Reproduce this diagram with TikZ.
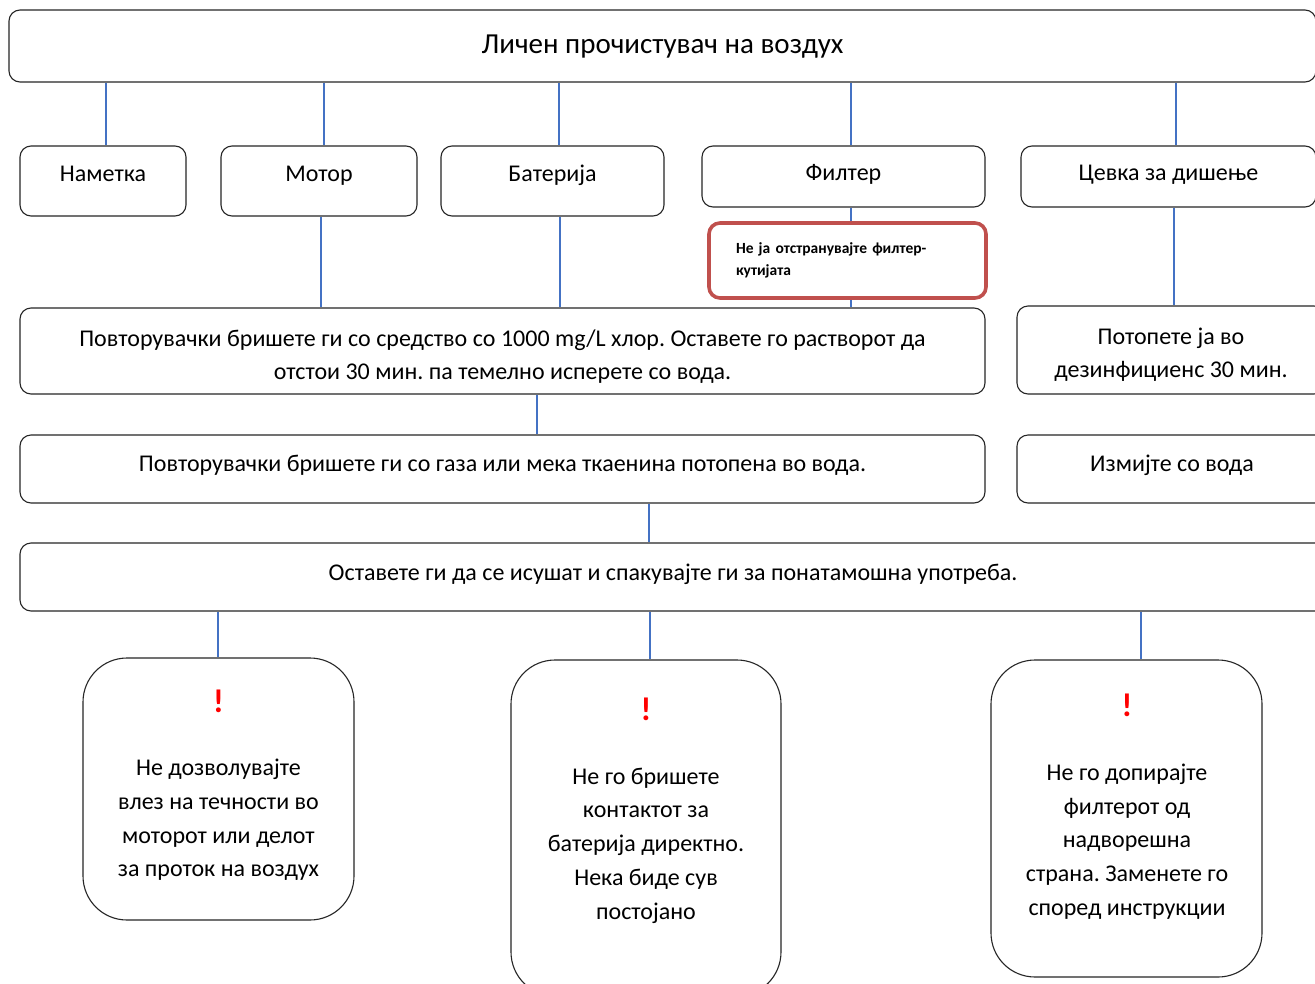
\documentclass[tikz,border=0pt]{standalone}
\usepackage{fontspec}
\setmainfont{Carlito}
\frenchspacing
\definecolor{connblue}{HTML}{4472C4}
\definecolor{warnred}{HTML}{C0504D}
\definecolor{boxline}{HTML}{262626}
\begin{document}
\begin{tikzpicture}[x=1pt,y=-1pt,
  box/.style={draw=boxline, line width=1.1pt, rounded corners=11pt, inner sep=0pt,
    align=center, font=\fontsize{24}{33}\selectfont},
  bigbox/.style={draw=boxline, line width=1.1pt, rounded corners=44pt, inner sep=0pt},
  redbox/.style={draw=warnred, line width=3.6pt, rounded corners=11pt, inner sep=0pt,
    align=left, font=\fontsize{15.5}{22}\selectfont\bfseries},
  bodytext/.style={inner sep=0pt, align=center, font=\fontsize{24}{33.7}\selectfont},
  bang/.style={inner sep=0pt, text=red, font=\fontsize{33}{36}\selectfont\bfseries},
  conn/.style={draw=connblue, line width=2pt}]
\useasboundingbox (0,0) rectangle (1315,983);
\clip (0,0) rectangle (1315,983);
\fill[white] (0,0) rectangle (1315,983);

% top
\node[box, minimum width=1307, minimum height=72, font=\fontsize{29}{34}\selectfont, text height=18pt, text depth=4pt] (title) at (662.5,46) {Личен прочистувач на воздух};

% parts
\node[box, minimum width=166, minimum height=70, text height=9pt, text depth=9pt] (nametka) at (103,181) {Наметка};
\node[box, minimum width=196, minimum height=70, text height=9pt, text depth=9pt] (motor) at (319,181) {Мотор};
\node[box, minimum width=223, minimum height=70, text height=9pt, text depth=9pt] (bater) at (552.5,181) {Батерија};
\node[box, minimum width=283, minimum height=61, text height=12pt, text depth=4pt] (filter) at (843.5,176.5) {Филтер};
\node[box, minimum width=295, minimum height=61, text height=12pt, text depth=4pt] (cevka) at (1168.5,176.5) {Цевка за дишење};

% red note
\node[redbox, minimum width=277, minimum height=75, text width=223] (note) at (847.5,260.5) {Не ја отстранувајте филтер-\\кутијата};

% steps
\node[box, minimum width=965, minimum height=86] (s1) at (502.5,351) {\rule{0pt}{27pt}Повторувачки бришете ги со средство со 1000 mg/L хлор. Оставете го растворот да\\отстои 30 мин. па темелно исперете со вода.};
\node[box, minimum width=308, minimum height=88] (pot) at (1171,350) {\rule{0pt}{25pt}Потопете ја во\\дезинфициенс 30 мин.};
\node[box, minimum width=965, minimum height=68, text height=10pt, text depth=5pt] (s2) at (502.5,469) {Повторувачки бришете ги со газа или мека ткаенина потопена во вода.};
\node[box, minimum width=310, minimum height=68, text height=10pt, text depth=5pt] (izm) at (1172,469) {Измијте со вода};
\node[box, minimum width=1306, minimum height=68, text height=11pt, text depth=4pt] (s3) at (673,577) {Оставете ги да се исушат и спакувајте ги за понатамошна употреба.};

% warnings
\node[bigbox, minimum width=271, minimum height=262] (wl) at (218.5,789) {};
\node[bigbox, minimum width=270, minimum height=336] (wm) at (646,828) {};
\node[bigbox, minimum width=271, minimum height=317] (wr) at (1126.5,818.5) {};

\node[bang] (wlb) at (218.5,701) {!};
\node[bodytext] (wlt) at (218.5,820) {Не дозволувајте\\влез на течности во\\моторот или делот\\за проток на воздух};
\node[bang] (wmb) at (646,709) {!};
\node[bodytext] (wmt) at (646,845.5) {Не го бришете\\контактот за\\батерија директно.\\Нека биде сув\\постојано};
\node[bang] (wrb) at (1127,705) {!};
\node[bodytext] (wrt) at (1127,841.5) {Не го допирајте\\филтерот од\\надворешна\\страна. Заменете го\\според инструкции};

% connectors
\draw[conn] ([xshift=2.5]nametka.north |- title.south) -- ([xshift=2.5]nametka.north);
\draw[conn] ([xshift=4.5]motor.north |- title.south) -- ([xshift=4.5]motor.north);
\draw[conn] ([xshift=6]bater.north |- title.south) -- ([xshift=6]bater.north);
\draw[conn] ([xshift=7]filter.north |- title.south) -- ([xshift=7]filter.north);
\draw[conn] ([xshift=7]cevka.north |- title.south) -- ([xshift=7]cevka.north);

\draw[conn] ([xshift=2]motor.south) -- ([xshift=2]motor.south |- s1.north);
\draw[conn] ([xshift=7.5]bater.south) -- ([xshift=7.5]bater.south |- s1.north);
\draw[conn] ([xshift=7.5]filter.south) -- ([xshift=7.5]filter.south |- note.north);
\draw[conn] ([xshift=3.5]note.south) -- ([xshift=3.5]note.south |- s1.north);
\draw[conn] ([xshift=5.5]cevka.south) -- ([xshift=5.5]cevka.south |- pot.north);

\draw[conn] ([xshift=34.5]s1.south) -- ([xshift=34.5]s1.south |- s2.north);
\draw[conn] ([xshift=146.5]s2.south) -- ([xshift=146.5]s2.south |- s3.north);

\draw[conn] ([xshift=-1]wl.north |- s3.south) -- ([xshift=-1]wl.north);
\draw[conn] ([xshift=3.5]wm.north |- s3.south) -- ([xshift=3.5]wm.north);
\draw[conn] ([xshift=14]wr.north |- s3.south) -- ([xshift=14]wr.north);
\end{tikzpicture}
\end{document}
